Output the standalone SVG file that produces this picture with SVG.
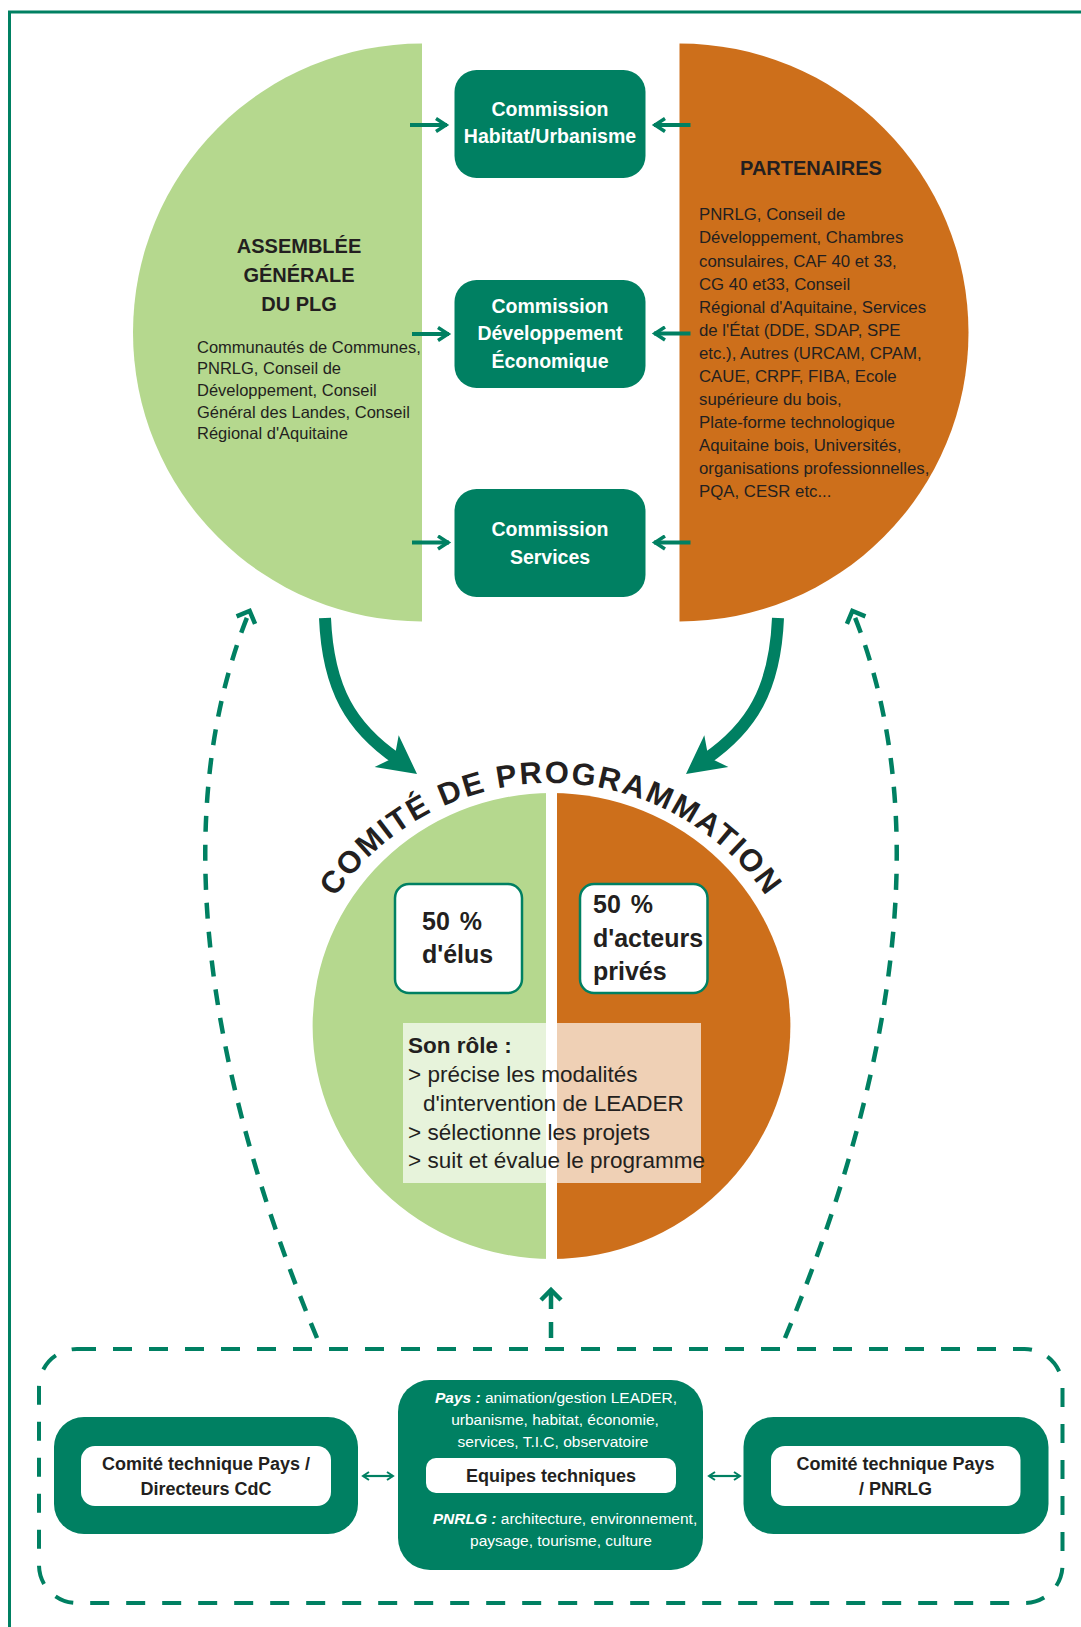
<svg xmlns="http://www.w3.org/2000/svg" width="1081" height="1627" viewBox="0 0 1081 1627">
<style>
.teal{fill:#008062}
.green{fill:#b5d88e}
.orange{fill:#cd6f1b}
.comm{font-family:"Liberation Sans",Arial,sans-serif;font-weight:bold;font-size:19.5px;fill:#fff;text-anchor:middle}
.head{font-family:"Liberation Sans",Arial,sans-serif;font-weight:bold;font-size:20px;fill:#231f20;text-anchor:middle}
.body{font-family:"Liberation Sans",Arial,sans-serif;font-size:16.5px;fill:#231f20}
.body2{font-family:"Liberation Sans",Arial,sans-serif;font-size:16.8px;fill:#231f20}
.pct{font-family:"Liberation Sans",Arial,sans-serif;font-weight:bold;font-size:25px;fill:#231f20}
.role{font-family:"Liberation Sans",Arial,sans-serif;font-size:22.5px;fill:#231f20}
.tech{font-family:"Liberation Sans",Arial,sans-serif;font-weight:bold;font-size:18px;fill:#231f20;text-anchor:middle}
.eq{font-family:"Liberation Sans",Arial,sans-serif;font-size:15.5px;fill:#fff;text-anchor:middle}
.k{font-weight:bold;font-style:italic}
.arr{stroke:#008062;stroke-width:4;fill:none}
.dash{stroke:#008062;stroke-width:4.5;fill:none;stroke-dasharray:16 13}
.thin{stroke:#008062;stroke-width:2.2;fill:none}
.wbox{fill:#fff}
</style>
<defs>
<marker id="chev" viewBox="0 0 18 16" refX="14" refY="8" markerWidth="18" markerHeight="16" markerUnits="userSpaceOnUse" orient="auto">
<path d="M3,1.5 L13,8 L3,14.5" fill="none" stroke="#008062" stroke-width="3.5"/>
</marker>
<marker id="chevd" viewBox="0 0 20 26" refX="14" refY="13" markerWidth="20" markerHeight="26" markerUnits="userSpaceOnUse" orient="auto">
<path d="M3,3 L13,13 L3,23" fill="none" stroke="#008062" stroke-width="4.5"/>
</marker>
<marker id="chevs" viewBox="0 0 10 10" refX="8" refY="5" markerWidth="10" markerHeight="10" markerUnits="userSpaceOnUse" orient="auto-start-reverse">
<path d="M2,1 L8,5 L2,9" fill="none" stroke="#008062" stroke-width="2"/>
</marker>
<path id="arcT" d="M290 1044 A261 261 0 0 1 812 1044" fill="none"/>
</defs>

<rect x="9.5" y="12" width="1200" height="1700" fill="none" stroke="#008062" stroke-width="3"/>

<g id="assemblee">
<path class="green" d="M422 43.5 A289 289 0 0 0 422 621.5 Z"/>
<text class="head" x="299" y="253">ASSEMBLÉE</text>
<text class="head" x="299" y="282">GÉNÉRALE</text>
<text class="head" x="299" y="311">DU PLG</text>
<text class="body" x="197" y="352.5">Communautés de Communes,</text>
<text class="body" x="197" y="374">PNRLG, Conseil de</text>
<text class="body" x="197" y="396">Développement, Conseil</text>
<text class="body" x="197" y="417.5">Général des Landes, Conseil</text>
<text class="body" x="197" y="439">Régional d'Aquitaine</text>
</g>

<g id="partenaires">
<path class="orange" d="M679.5 43.5 A289 289 0 0 1 679.5 621.5 Z"/>
<text class="head" x="811" y="175">PARTENAIRES</text>
<text class="body2" x="699" y="220">PNRLG, Conseil de</text>
<text class="body2" x="699" y="243.3">Développement, Chambres</text>
<text class="body2" x="699" y="266.5">consulaires, CAF 40 et 33,</text>
<text class="body2" x="699" y="289.5">CG 40 et33, Conseil</text>
<text class="body2" x="699" y="312.5">Régional d'Aquitaine, Services</text>
<text class="body2" x="699" y="335.5">de l'État (DDE, SDAP, SPE</text>
<text class="body2" x="699" y="358.5">etc.), Autres (URCAM, CPAM,</text>
<text class="body2" x="699" y="381.5">CAUE, CRPF, FIBA, Ecole</text>
<text class="body2" x="699" y="404.5">supérieure du bois,</text>
<text class="body2" x="699" y="427.5">Plate-forme technologique</text>
<text class="body2" x="699" y="450.5">Aquitaine bois, Universités,</text>
<text class="body2" x="699" y="473.5">organisations professionnelles,</text>
<text class="body2" x="699" y="496.5">PQA, CESR etc...</text>
</g>

<g id="commission-habitat">
<rect class="teal" x="454.5" y="70" width="191" height="108" rx="22"/>
<text class="comm" x="550" y="116">Commission</text>
<text class="comm" x="550" y="143">Habitat/Urbanisme</text>
</g>

<g id="commission-developpement">
<rect class="teal" x="454.5" y="280" width="191" height="108" rx="22"/>
<text class="comm" x="550" y="313">Commission</text>
<text class="comm" x="550" y="340">Développement</text>
<text class="comm" x="550" y="368">Économique</text>
</g>

<g id="commission-services">
<rect class="teal" x="454.5" y="489" width="191" height="108" rx="22"/>
<text class="comm" x="550" y="536">Commission</text>
<text class="comm" x="550" y="564">Services</text>
</g>

<g id="comite-programmation">
<path class="green" d="M551.5 793 A239 233 0 0 0 551.5 1259 Z"/>
<path class="orange" d="M551.5 793 A239 233 0 0 1 551.5 1259 Z"/>
<rect x="546" y="790" width="11" height="472" fill="#fff"/>
<text font-family="Liberation Sans, Arial, sans-serif" font-weight="bold" font-size="31" letter-spacing="2" fill="#231f20"><textPath href="#arcT" startOffset="50%" text-anchor="middle">COMITÉ DE PROGRAMMATION</textPath></text>
</g>

<g id="elus">
<rect x="395" y="884" width="127" height="109" rx="14" fill="#fff" stroke="#008062" stroke-width="2.5"/>
<text class="pct" x="422" y="930" word-spacing="3">50 %</text>
<text class="pct" x="422" y="963">d'élus</text>
</g>

<g id="acteurs-prives">
<rect x="580" y="884" width="127.5" height="109" rx="14" fill="#fff" stroke="#008062" stroke-width="2.5"/>
<text class="pct" x="593" y="913" word-spacing="3">50 %</text>
<text class="pct" x="593" y="947">d'acteurs</text>
<text class="pct" x="593" y="980">privés</text>
</g>

<g id="role">
<rect x="403" y="1023" width="298" height="160" fill="#fff" fill-opacity="0.68"/>
<text class="role" x="408" y="1053" font-weight="bold" font-size="21">Son rôle :</text>
<text class="role" x="408" y="1082">&gt; précise les modalités</text>
<text class="role" x="423" y="1111">d'intervention de LEADER</text>
<text class="role" x="408" y="1139.5">&gt; sélectionne les projets</text>
<text class="role" x="408" y="1168">&gt; suit et évalue le programme</text>
</g>

<g id="groupe-technique">
<rect x="39" y="1349" width="1023.5" height="254" rx="38" fill="none" stroke="#008062" stroke-width="4" stroke-dasharray="19 17"/>
</g>

<g id="comite-technique-cdc">
<rect class="teal" x="54" y="1417" width="304" height="117" rx="30"/>
<rect class="wbox" x="81" y="1446" width="250" height="60" rx="14"/>
<text class="tech" x="206" y="1470">Comité technique Pays /</text>
<text class="tech" x="206" y="1495">Directeurs CdC</text>
</g>

<g id="equipes-techniques">
<rect class="teal" x="398" y="1380" width="305" height="190" rx="32"/>
<rect class="wbox" x="426" y="1458" width="250" height="35" rx="10"/>
<text class="eq" x="556" y="1403"><tspan class="k">Pays :</tspan> animation/gestion LEADER,</text>
<text class="eq" x="555" y="1425">urbanisme, habitat, économie,</text>
<text class="eq" x="553" y="1446.5">services, T.I.C, observatoire</text>
<text class="tech" x="551" y="1482">Equipes techniques</text>
<text class="eq" x="565" y="1524"><tspan class="k">PNRLG :</tspan> architecture, environnement,</text>
<text class="eq" x="561" y="1546">paysage, tourisme, culture</text>
</g>

<g id="comite-technique-pnrlg">
<rect class="teal" x="743.5" y="1417" width="305" height="117" rx="30"/>
<rect class="wbox" x="771" y="1446" width="249.5" height="60" rx="14"/>
<text class="tech" x="895.5" y="1470">Comité technique Pays</text>
<text class="tech" x="895.5" y="1495">/ PNRLG</text>
</g>

<g id="connectors">
<path class="arr" d="M410 125 L447 125" marker-end="url(#chev)"/>
<path class="arr" d="M412 334 L449 334" marker-end="url(#chev)"/>
<path class="arr" d="M412 542.5 L449 542.5" marker-end="url(#chev)"/>
<path class="arr" d="M690.5 125 L654 125" marker-end="url(#chev)"/>
<path class="arr" d="M690.5 333.5 L654 333.5" marker-end="url(#chev)"/>
<path class="arr" d="M690.5 542.5 L654 542.5" marker-end="url(#chev)"/>
<g id="fleche-assemblee-comite">
<path d="M325 618 C328 690 352 728 397 759" stroke="#008062" stroke-width="12" fill="none"/>
<path d="M0,0 L-38,-20 L-28,0 L-38,20 Z" transform="translate(417,774) rotate(37)" fill="#008062"/>
</g>
<g id="fleche-partenaires-comite" transform="translate(1103,0) scale(-1,1)">
<path d="M325 618 C328 690 352 728 397 759" stroke="#008062" stroke-width="12" fill="none"/>
<path d="M0,0 L-38,-20 L-28,0 L-38,20 Z" transform="translate(417,774) rotate(37)" fill="#008062"/>
</g>
<path class="dash" d="M317 1338 C197 1050 172 800 250 610" marker-end="url(#chevd)"/>
<path class="dash" d="M785 1338 C905 1050 930 800 852 610" marker-end="url(#chevd)"/>
<path class="dash" d="M551 1338 L551 1289" stroke-dasharray="17 15" marker-end="url(#chevd)"/>
<path class="thin" d="M363 1476 L393 1476" marker-start="url(#chevs)" marker-end="url(#chevs)"/>
<path class="thin" d="M709 1476 L740 1476" marker-start="url(#chevs)" marker-end="url(#chevs)"/>
</g>
</svg>
